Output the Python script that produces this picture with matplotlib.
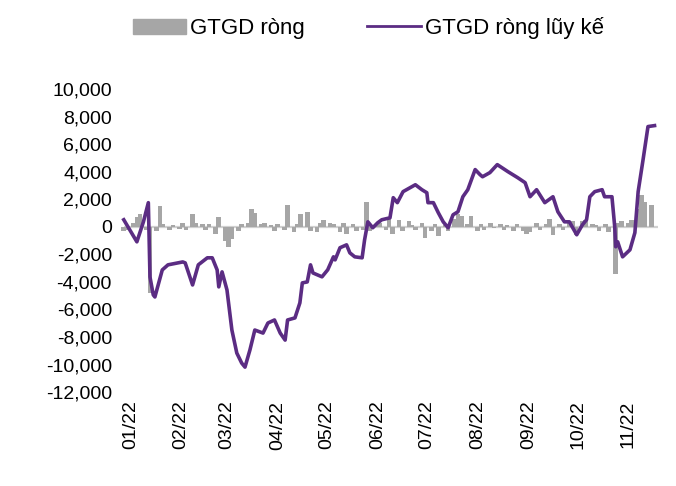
import numpy as np
import pandas as pd
import matplotlib
matplotlib.use("Agg")
import matplotlib.pyplot as plt
import matplotlib.dates as mdates
from matplotlib.patches import Patch
from matplotlib.lines import Line2D

# daily net value (bn VND), one bar every 2 trading days from 28/12/2021
net = [-300, -200, 300, 700, 900, -200, -4800, -300, 1500, 200,
       -200, 100, -150, 300, -200, 900, 300, 200, -200, 200,
       -500, 700, -1000, -1500, -900, -300, 200, 300, 1300, 1000,
       200, 300, 100, -300, 200, -200, 1600, -400, 200, 900,
       1100, -300, -400, 300, 500, 300, 200, -400, 300, -500,
       200, -300, -200, 1800, -300, 200, 300, -200, 600, -500,
       500, -300, 400, 100, -200, 300, -800, -300, 200, -700,
       100, -300, 600, 900, 800, 200, 800, -300, 200, -200,
       300, -100, 200, -200, 100, -300, 200, -300, -500, -400,
       300, -200, 200, 600, -600, 200, -200, 300, 400, -600,
       400, 500, 200, 100, -300, 200, -400, -3400, 300, 400,
       300, 500, 1300, 2300, 1800, 1600]

# cumulative net value: days after 01/01/2022 and value
cum_day = [-4, 4, 8, 11, 12, 14, 15, 19.5, 23, 32, 33.5, 38, 41.5, 47, 50,
           53, 54, 56, 59, 62, 65, 68, 70, 73, 76, 81, 84, 88, 91.5, 94.5,
           96, 100.5, 103.5, 105, 108, 110, 111.5, 117, 120.5, 124, 125, 128,
           132, 134, 137, 141.5, 143, 145, 148, 151, 153.5, 158.5, 160.5, 163,
           166.5, 174, 178, 181, 181.7, 185, 188, 191, 194, 197, 200, 203,
           206, 210.5, 213.5, 215, 219.5, 224, 230.5, 236.5, 241, 244, 248,
           253, 258, 261, 265, 268, 272.5, 276, 278.5, 280.5, 283.5, 288,
           289.5, 294, 295.7, 296.3, 297.5, 300.5, 305, 308, 310, 313, 316, 320]
cum = [510, -1090, 360, 1750, -3640, -4940, -5090, -3130, -2760, -2550, -2620,
       -4220, -2760, -2250, -2250, -3130, -4360, -3270, -4580, -7490, -9160,
       -9890, -10180, -8940, -7490, -7710, -6980, -6760, -7710, -8220, -6760,
       -6610, -5520, -4070, -4000, -2760, -3350, -3630, -3120, -2180, -2400,
       -1520, -1310, -1890, -2180, -2250, -950, 360, -70, 290, 510, 650, 2110,
       1750, 2550, 3050, 2690, 2470, 1750, 1750, 1020, 360, -70, 870, 1090,
       2180, 2690, 4150, 3780, 3630, 3930, 4510, 4000, 3560, 3200, 2180, 2690,
       1750, 2180, 1090, 360, 360, -580, 150, 510, 2180, 2550, 2690, 2180,
       2180, 0, -1450, -1090, -2180, -1670, -430, 2550, 4870, 7270, 7340]

month_ticks = pd.date_range("2022-01-01", "2022-11-01", freq="MS")
y_ticks = np.arange(-12000, 10001, 2000)

bar_dates = pd.bdate_range("2021-12-28", periods=len(net), freq="2B")
jan1 = pd.Timestamp("2022-01-01")
cum_dates = jan1 + pd.to_timedelta(cum_day, unit="D")

plt.rcParams["font.family"] = ["Liberation Sans", "DejaVu Sans"]

fig = plt.figure(figsize=(6.76, 4.86), dpi=100)
ax = fig.add_axes([0.178, 0.193, 0.798, 0.624])

ax.bar(bar_dates, net, width=2.8, color="#a6a6a6", zorder=2)
ax.hlines(0, bar_dates[0], cum_dates[-1] + pd.Timedelta(days=2),
          color="#d0d0d0", lw=1.6, zorder=1)
ax.plot(cum_dates, cum, color="#5b2c83", lw=2.6, zorder=3,
        solid_joinstyle="round")

ax.set_xlim(jan1 - pd.Timedelta(days=6.1), jan1 + pd.Timedelta(days=323.2))
ax.set_ylim(-12000, 10000)
ax.set_yticks(y_ticks)
ax.set_yticklabels([f"{v:,.0f}" for v in y_ticks], fontsize=14)
ax.set_xticks(month_ticks)
ax.xaxis.set_major_formatter(mdates.DateFormatter("%m/%y"))
plt.setp(ax.get_xticklabels(), rotation=90, fontsize=14)
ax.tick_params(length=0, pad=6)
for s in ax.spines.values():
    s.set_visible(False)

handles = [Patch(color="#a6a6a6"), Line2D([], [], color="#5b2c83", lw=2)]
fig.legend(handles, ["GTGD ròng", "GTGD ròng lũy kế"], loc="center",
           bbox_to_anchor=(0.545, 0.942), ncol=2, frameon=False,
           prop={"family": ["Liberation Sans", "DejaVu Sans"], "size": 16},
           handlelength=2.4, handletextpad=0.2, columnspacing=2.8)

fig.savefig("out.png", dpi=100)
